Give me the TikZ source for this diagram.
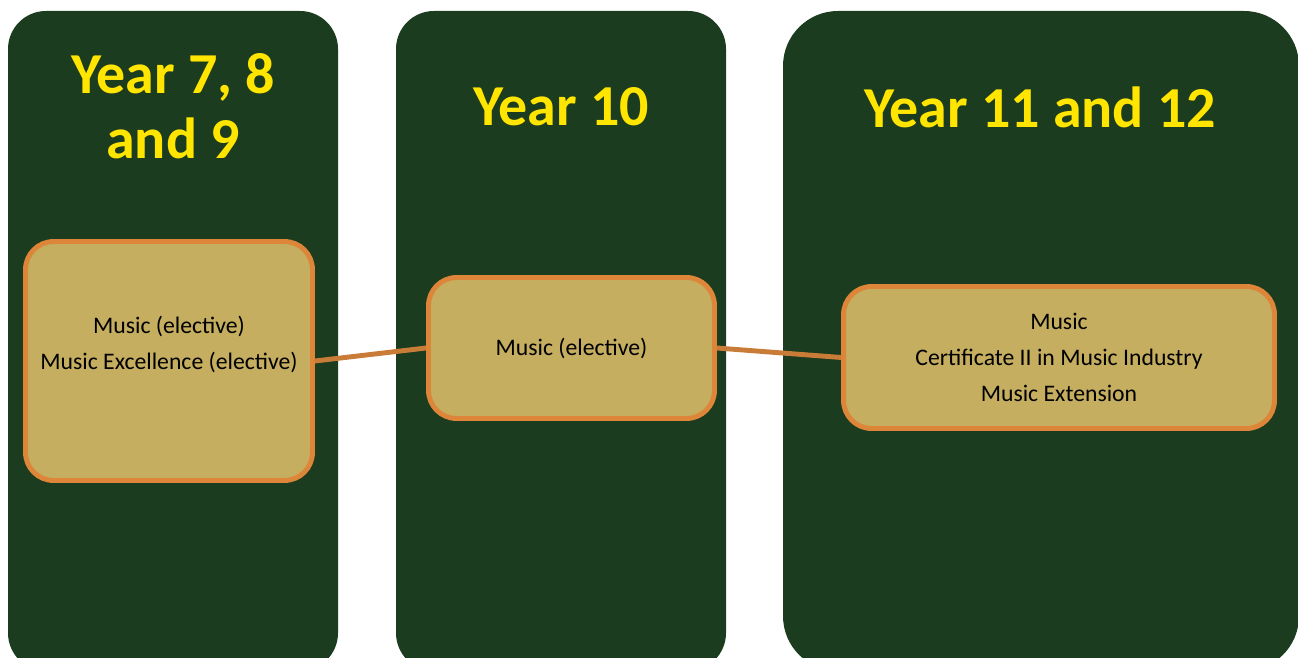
\documentclass[tikz,border=0pt]{standalone}
\usepackage{fontspec}
\setmainfont{Carlito}
\definecolor{darkgreen}{HTML}{1B3C1E}
\definecolor{gold}{HTML}{FFE500}
\definecolor{sand}{HTML}{C5AE5F}
\definecolor{rim}{HTML}{DD8539}
\definecolor{link}{HTML}{C97B38}
\tikzset{
  yearhead/.style={text=gold,align=center,font=\bfseries\fontsize{33}{36.8}\selectfont},
  yearbox/.style={fill=sand,draw=rim,line width=2.8pt,rounded corners=0.56cm,align=center,inner sep=0pt,
    font=\fontsize{13.5}{20.4}\selectfont},
  yearlink/.style={link,line width=2.8pt}
}
\begin{document}
\begin{tikzpicture}[x=0.02cm,y=-0.02cm]
\useasboundingbox (0,0) rectangle (1298,658);
\clip (0,0) rectangle (1298,658);
% columns
\fill[darkgreen,rounded corners=0.76cm] (8,11) rectangle (338,671);
\fill[darkgreen,rounded corners=0.76cm] (396,11) rectangle (726,671);
\fill[darkgreen,rounded corners=1.1cm] (783,11) rectangle (1299,671);
% headings
\node[yearhead] (head1) at (173,106) {Year 7, 8\\and 9};
\node[yearhead] (head2) at (561,107) {Year 10};
\node[yearhead] (head3) at (1040,107) {Year 11 and 12};
% subjects
\node[yearbox,minimum width=5.74cm,minimum height=4.78cm] (music1) at (169,361)
  {Music (elective)\\Music Excellence (elective)\\\mbox{}};
\node[yearbox,minimum width=5.72cm,minimum height=2.82cm] (music2) at (571.5,348)
  {Music (elective)};
\node[yearbox,minimum width=8.62cm,minimum height=2.84cm] (music3) at (1059,357.5)
  {Music\\Certificate II in Music Industry\\Music Extension};
\draw[yearlink] (music1.east) -- (music2.west);
\draw[yearlink] (music2.east) -- (music3.west);
\end{tikzpicture}
\end{document}
